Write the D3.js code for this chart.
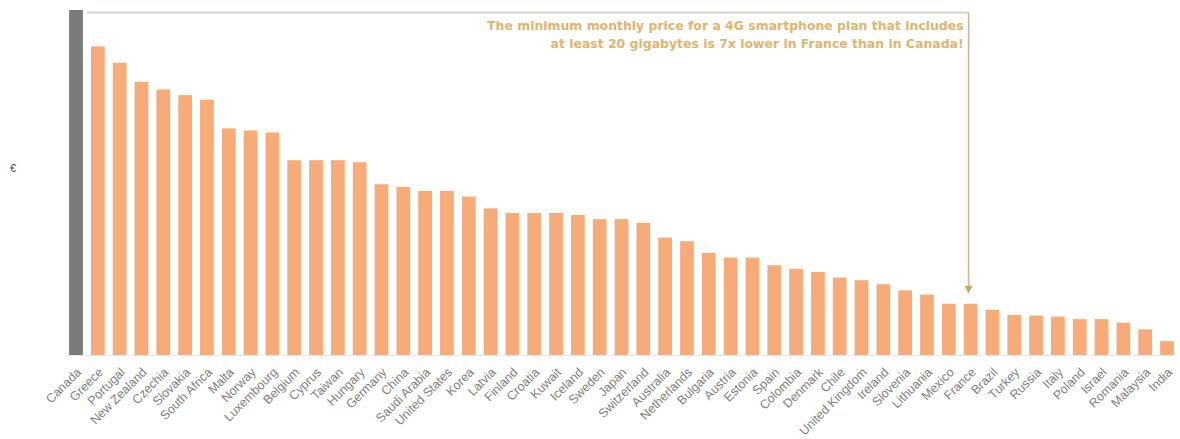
<!DOCTYPE html>
<html>
<head>
<meta charset="utf-8">
<script src="https://cdn.jsdelivr.net/npm/d3@7"></script>
<style>
  html, body { margin: 0; padding: 0; background: #ffffff; }
  svg { display: block; }
</style>
</head>
<body>
<svg id="chart" width="1180" height="439"></svg>
<script>
// Minimum monthly price (€) of a 4G smartphone plan with at least 20 GB
const countries = [
  "Canada", "Greece", "Portugal", "New Zealand", "Czechia", "Slovakia", "South Africa",
  "Malta", "Norway", "Luxembourg", "Belgium", "Cyprus", "Taiwan", "Hungary", "Germany",
  "China", "Saudi Arabia", "United States", "Korea", "Latvia", "Finland", "Croatia",
  "Kuwait", "Iceland", "Sweden", "Japan", "Switzerland", "Australia", "Netherlands",
  "Bulgaria", "Austria", "Estonia", "Spain", "Colombia", "Denmark", "Chile",
  "United Kingdom", "Ireland", "Slovenia", "Lithuania", "Mexico", "France", "Brazil",
  "Turkey", "Russia", "Italy", "Poland", "Israel", "Romania", "Malaysia", "India"
];
const prices = [
  67.3, 60.2, 57.0, 53.3, 51.8, 50.7, 49.8,
  44.2, 43.8, 43.4, 38.0, 38.0, 38.0, 37.6, 33.3,
  32.8, 32.0, 32.0, 30.9, 28.6, 27.7, 27.7,
  27.7, 27.3, 26.5, 26.5, 25.8, 22.9, 22.2,
  19.9, 19.0, 19.0, 17.5, 16.8, 16.2, 15.1,
  14.6, 13.8, 12.6, 11.8, 10.0, 10.0, 8.8,
  7.8, 7.7, 7.5, 7.0, 7.0, 6.3, 5.0, 2.7
];
const highlight = "Canada";
const target = "France";
const yLabel = "€";
const noteLines = [
  "The minimum monthly price for a 4G smartphone plan that includes",
  "at least 20 gigabytes is 7x lower in France than in Canada!"
];

const data = countries.map((c, i) => ({ country: c, price: prices[i] }));

const svg = d3.select("#chart");
const plot = { left: 65.1, right: 1177.9, top: 10, bottom: 355 };

const x = d3.scaleBand()
  .domain(countries)
  .range([plot.left, plot.right])
  .paddingInner(0.37)
  .paddingOuter(0.185);

const y = d3.scaleLinear()
  .domain([0, d3.max(prices)])
  .range([plot.bottom, plot.top]);

// baseline
svg.append("line")
  .attr("x1", x(countries[0]) - 2)
  .attr("x2", x(countries[countries.length - 1]) + x.bandwidth() + 2)
  .attr("y1", plot.bottom + 0.5)
  .attr("y2", plot.bottom + 0.5)
  .attr("stroke", "#e6e8ec")
  .attr("stroke-width", 1);

// bars
svg.append("g")
  .selectAll("rect")
  .data(data)
  .join("rect")
  .attr("x", d => x(d.country))
  .attr("y", d => y(d.price))
  .attr("width", x.bandwidth())
  .attr("height", d => y(0) - y(d.price))
  .attr("fill", d => d.country === highlight ? "#7b7b7b" : "#f6ab79");

// category axis labels, slanted
const xAxis = d3.axisBottom(x).tickSize(0).tickPadding(0);
const gx = svg.append("g")
  .attr("transform", `translate(0,${plot.bottom})`)
  .call(xAxis);
gx.select(".domain").remove();
gx.selectAll("text")
  .attr("font-family", "Liberation Sans, Arial, sans-serif")
  .attr("font-size", 12.5)
  .attr("fill", "#808080")
  .attr("text-anchor", "end")
  .attr("dy", 0)
  .attr("y", 0)
  .attr("transform", "translate(6,18) rotate(-45)");

// y-axis unit
svg.append("text")
  .attr("x", 13)
  .attr("y", 172)
  .attr("text-anchor", "middle")
  .attr("font-family", "Liberation Sans, Arial, sans-serif")
  .attr("font-size", 11)
  .attr("fill", "#444")
  .text(yLabel);

// annotation bracket: from the top of the highlighted bar to the target bar
const hiRight = x(highlight) + x.bandwidth();
const tgtX = x(target) + x.bandwidth() / 2 - 2;
const lineY = y(d3.max(prices)) + 2.5;
const arrowTip = y(prices[countries.indexOf(target)]) - 10;

svg.append("line")
  .attr("x1", hiRight + 4).attr("x2", tgtX)
  .attr("y1", lineY).attr("y2", lineY)
  .attr("stroke", "#d9d4c6").attr("stroke-width", 2);

svg.append("line")
  .attr("x1", tgtX).attr("x2", tgtX)
  .attr("y1", lineY).attr("y2", arrowTip - 6)
  .attr("stroke", "#cdb994").attr("stroke-width", 1.6);

svg.append("path")
  .attr("d", `M${tgtX - 4},${arrowTip - 8} L${tgtX + 4},${arrowTip - 8} L${tgtX},${arrowTip} Z`)
  .attr("fill", "#c9a76a");

const note = svg.append("text")
  .attr("font-family", "DejaVu Sans, Verdana, sans-serif")
  .attr("font-weight", "bold")
  .attr("font-size", 12.45)
  .attr("fill", "#dfb46e")
  .attr("text-anchor", "end");
note.selectAll("tspan")
  .data(noteLines)
  .join("tspan")
  .attr("x", tgtX - 5)
  .attr("y", (d, i) => 30 + i * 17.5)
  .text(d => d);
</script>
</body>
</html>
